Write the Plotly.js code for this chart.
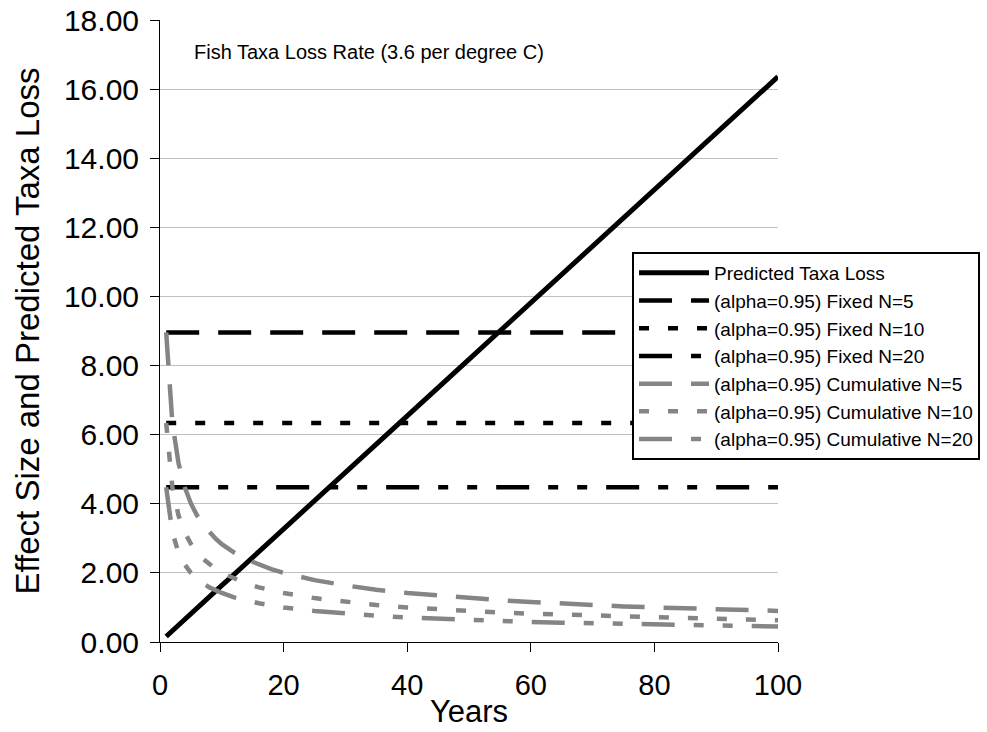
<!DOCTYPE html>
<html>
<head>
<meta charset="utf-8">
<script src="https://cdn.plot.ly/plotly-3.0.1.min.js"></script>
<style>
html,body{margin:0;padding:0;background:#fff;}
#chart{width:987px;height:732px;}
</style>
</head>
<body>
<div id="chart"></div>
<script>
// ---- data ----
var years = [1,2,3,4,5,6,7,8,9,10,12,14,16,18,20,25,30,35,40,45,50,55,60,65,70,75,80,85,90,95,100];
var predictedLoss = [0.16,0.33,0.49,0.65,0.82,0.98,1.15,1.31,1.47,1.64,1.96,2.29,2.62,2.95,3.27,4.09,4.91,5.73,6.54,7.36,8.18,9.00,9.82,10.63,11.45,12.27,13.09,13.91,14.72,15.54,16.36];
var fixedYears = [1, 100];
var fixedN5  = [8.96, 8.96];
var fixedN10 = [6.34, 6.34];
var fixedN20 = [4.48, 4.48];
var cumN5  = [8.96,6.34,5.17,4.48,4.01,3.66,3.39,3.17,2.99,2.83,2.59,2.39,2.24,2.11,2.00,1.79,1.64,1.51,1.42,1.34,1.27,1.21,1.16,1.11,1.07,1.03,1.00,0.97,0.94,0.92,0.90];
var cumN10 = [6.34,4.48,3.66,3.17,2.84,2.59,2.40,2.24,2.11,2.00,1.83,1.69,1.58,1.49,1.42,1.27,1.16,1.07,1.00,0.94,0.90,0.85,0.82,0.79,0.76,0.73,0.71,0.69,0.67,0.65,0.63];
var cumN20 = [4.48,3.17,2.59,2.24,2.00,1.83,1.69,1.58,1.49,1.42,1.29,1.20,1.12,1.06,1.00,0.90,0.82,0.76,0.71,0.67,0.63,0.60,0.58,0.56,0.54,0.52,0.50,0.49,0.47,0.46,0.45];
var seriesNames = [
  "Predicted Taxa Loss",
  "(alpha=0.95) Fixed N=5",
  "(alpha=0.95) Fixed N=10",
  "(alpha=0.95) Fixed N=20",
  "(alpha=0.95) Cumulative N=5",
  "(alpha=0.95) Cumulative N=10",
  "(alpha=0.95) Cumulative N=20"
];
var yTickVals = [0,2,4,6,8,10,12,14,16,18];
var xTickVals = [0,20,40,60,80,100];
var annotationText = "Fish Taxa Loss Rate (3.6 per degree C)";

// ---- styles ----
var FONT = "'Liberation Sans', Arial, sans-serif";
var BLACK = "#000000", GRAY = "#858585";
var LONGDASH = "33px,19px";
var DOTTED = "10px,19px";
var LDASHDOTDOT = "33px,19px,10px,19px,10px,19px";

function tr(x, y, name, color, width, dash) {
  return {x: x, y: y, name: name, type: "scatter", mode: "lines",
    line: {color: color, width: width, dash: dash}, hoverinfo: "skip"};
}
var data = [
  tr(years, predictedLoss, seriesNames[0], BLACK, 5, "solid"),
  tr(fixedYears, fixedN5, seriesNames[1], BLACK, 4.5, LONGDASH),
  tr(fixedYears, fixedN10, seriesNames[2], BLACK, 4.5, DOTTED),
  tr(fixedYears, fixedN20, seriesNames[3], BLACK, 4.5, LDASHDOTDOT),
  tr(years, cumN5, seriesNames[4], GRAY, 4.5, LONGDASH),
  tr(years, cumN10, seriesNames[5], GRAY, 4.5, DOTTED),
  tr(years, cumN20, seriesNames[6], GRAY, 4.5, LDASHDOTDOT)
];

var layout = {
  width: 987, height: 732,
  paper_bgcolor: "#ffffff", plot_bgcolor: "#ffffff",
  font: {family: FONT, color: "#000"},
  margin: {l: 160, r: 209, t: 20, b: 90, autoexpand: false},
  showlegend: true,
  legend: {
    x: 0.7638, y: 0.627, xanchor: "left", yanchor: "top",
    bgcolor: "#ffffff", bordercolor: "#000000", borderwidth: 2,
    font: {family: FONT, size: 19, color: "#000"},
    traceorder: "normal", itemwidth: 70
  },
  xaxis: {
    range: [0, 100], tickvals: xTickVals, ticktext: xTickVals.map(String),
    showgrid: false, zeroline: false,
    showline: true, linecolor: "#000", linewidth: 1,
    ticks: "outside", ticklen: 9, tickwidth: 1, tickcolor: "#000",
    tickfont: {family: FONT, size: 29, color: "#000"},
    ticklabelstandoff: 8,
    title: {text: "Years", font: {family: FONT, size: 31, color: "#000"}, standoff: 0}
  },
  yaxis: {
    range: [0, 18], tickvals: yTickVals, tickformat: ".2f",
    showgrid: true, gridcolor: "#c0c0c0", gridwidth: 1,
    zeroline: false,
    showline: true, linecolor: "#000", linewidth: 1,
    ticks: "outside", ticklen: 9, tickwidth: 1, tickcolor: "#000",
    tickfont: {family: FONT, size: 30, color: "#000"},
    ticklabelstandoff: 5,
    title: {text: "Effect Size and Predicted Taxa Loss", font: {family: FONT, size: 33, color: "#000"}, standoff: 14}
  },
  annotations: [{
    text: annotationText, xref: "paper", yref: "paper",
    x: 0.0518, y: 0.9486, xanchor: "left", yanchor: "middle",
    showarrow: false, font: {family: FONT, size: 20, color: "#000"}
  }]
};

Plotly.newPlot("chart", data, layout, {displayModeBar: false, staticPlot: true});
</script>
</body>
</html>
